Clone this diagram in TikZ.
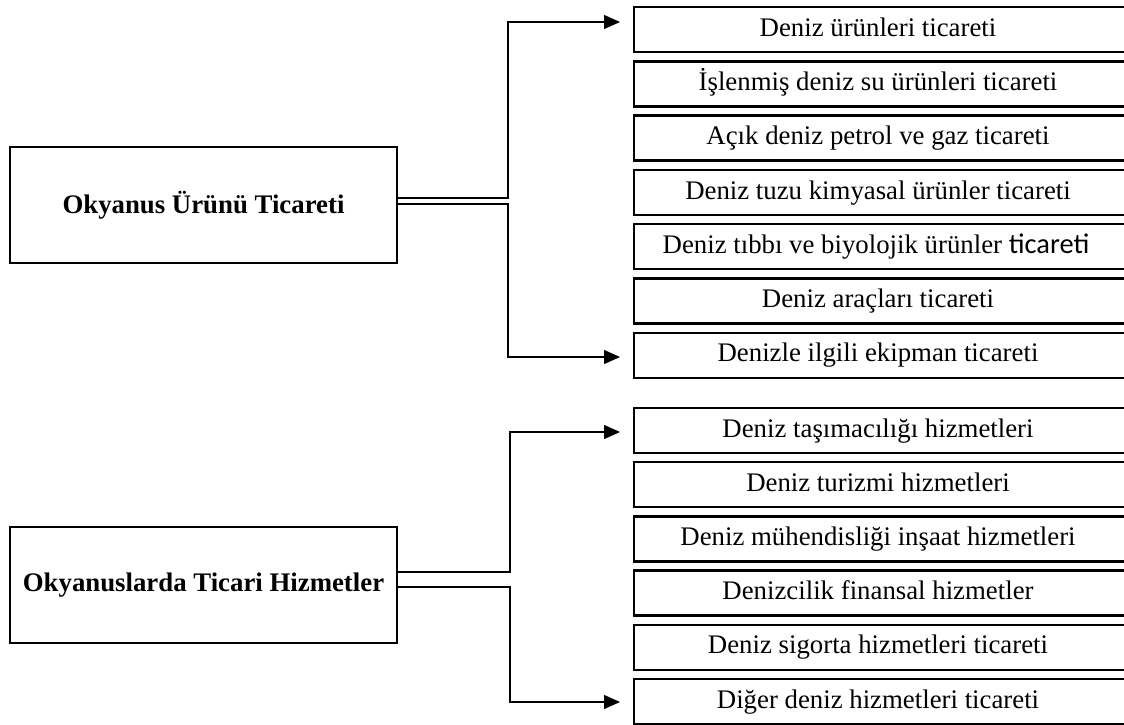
\documentclass[tikz,border=0pt]{standalone}
\usepackage{fontspec}
\setmainfont{Liberation Serif}
\newfontfamily\calibrifont{Carlito}
\usetikzlibrary{arrows.meta,calc}
\begin{document}
\begin{tikzpicture}[x=0.5pt,y=-0.5pt,
  every node/.style={font=\fontsize{13.4}{16}\selectfont},
  mainbox/.style={draw, line width=1.2pt, inner sep=0pt, outer sep=0pt,
    minimum width=193.5pt, minimum height=58pt, anchor=north west, font=\fontsize{13.4}{16}\selectfont\bfseries},
  itembox/.style={draw, line width=1.2pt, inner sep=0pt, outer sep=0pt,
    minimum width=250pt, minimum height=22.5pt, anchor=north west,
    text height=9.2pt, text depth=2.6pt},
  link/.style={line width=0.6pt},
  arr/.style={line width=0.6pt, -{Triangle[length=8pt,width=7pt]}, shorten >=7pt}]
\path[use as bounding box] (0,0) rectangle (1124,724);
\clip (0,0) rectangle (1124,724);
% left boxes
\node[mainbox] (L1) at (10,147) {Okyanus Ürünü Ticareti};
\node[mainbox] (L2) at (10,527) {Okyanuslarda Ticari Hizmetler};
% right boxes, group 1
\node[itembox] (r1) at (634,7) {\hspace*{-6pt}Deniz ürünleri ticareti};
\node[itembox] (r2) at (634,61.3) {\hspace*{-6pt}İşlenmiş deniz su ürünleri ticareti};
\node[itembox] (r3) at (634,115.6) {\hspace*{-6pt}Açık deniz petrol ve gaz ticareti};
\node[itembox] (r4) at (634,169.9) {\hspace*{-6pt}Deniz tuzu kimyasal ürünler ticareti};
\node[itembox] (r5) at (634,224.2) {\hspace*{-8pt}Deniz tıbbı ve biyolojik ürünler {\calibrifont\fontsize{14.2}{16}\selectfont ticareti}};
\node[itembox] (r6) at (634,278.5) {\hspace*{-6pt}Deniz araçları ticareti};
\node[itembox] (r7) at (634,332.8) {\hspace*{-6pt}Denizle ilgili ekipman ticareti};
% right boxes, group 2
\node[itembox] (b1) at (634,408) {\hspace*{-6pt}Deniz taşımacılığı hizmetleri};
\node[itembox] (b2) at (634,462.2) {\hspace*{-6pt}Deniz turizmi hizmetleri};
\node[itembox] (b3) at (634,516.4) {\hspace*{-6pt}Deniz mühendisliği inşaat hizmetleri};
\node[itembox] (b4) at (634,570.6) {\hspace*{-6pt}Denizcilik finansal hizmetler};
\node[itembox] (b5) at (634,624.8) {\hspace*{-6pt}Deniz sigorta hizmetleri ticareti};
\node[itembox] (b6) at (634,679) {\hspace*{-6pt}Diğer deniz hizmetleri ticareti};
% connectors group 1
\coordinate (j1) at (508,198);
\coordinate (j2) at (508,204);
\draw[arr] (L1.east |- j1) -- (j1) |- (r1.west |- 0,22);
\draw[arr] (L1.east |- j2) -- (j2) |- (r7.west |- 0,357);
% connectors group 2
\coordinate (k1) at (510,572);
\coordinate (k2) at (510,587);
\draw[arr] (L2.east |- k1) -- (k1) |- (b1.west |- 0,432);
\draw[arr] (L2.east |- k2) -- (k2) |- (b6.west |- 0,702);
\end{tikzpicture}
\end{document}
